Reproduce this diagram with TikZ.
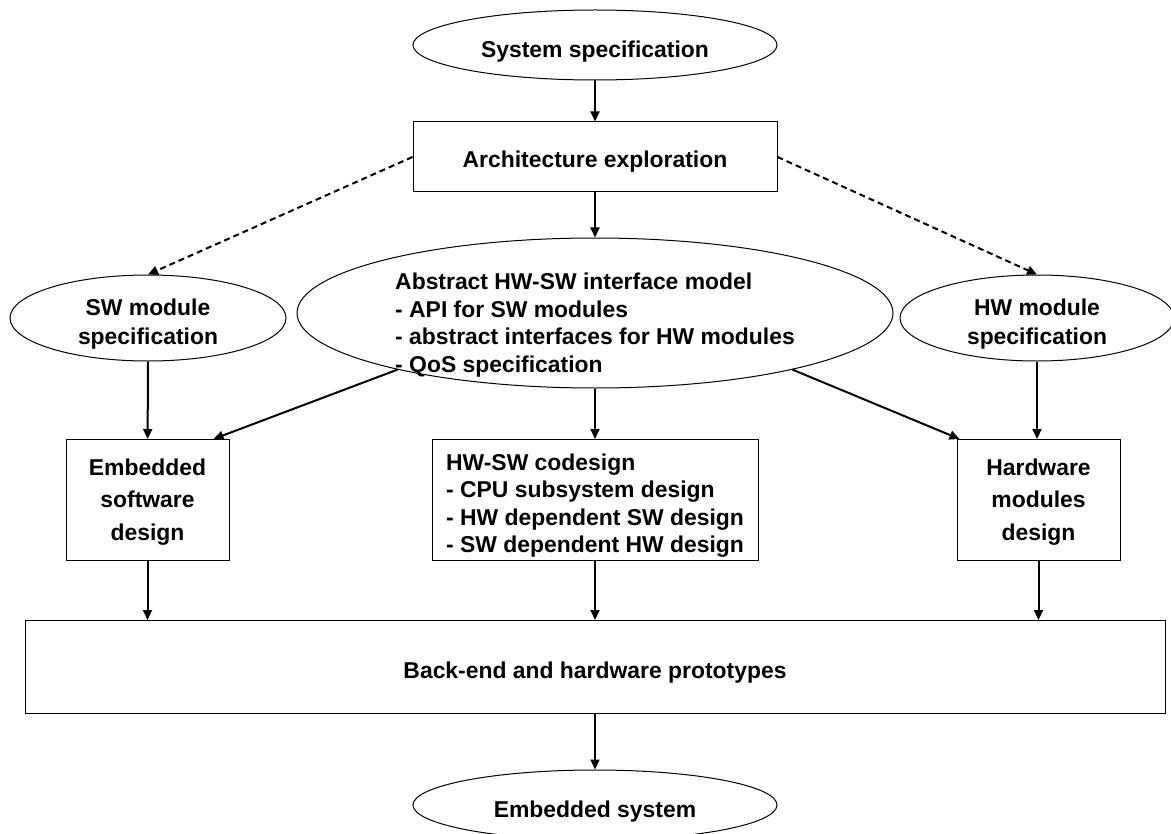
\documentclass[tikz,border=0pt]{standalone}
\usepackage{fontspec}
\setmainfont{Liberation Sans}
\usetikzlibrary{shapes.geometric,arrows.meta}
\begin{document}
\begin{tikzpicture}[x=0.5pt,y=-0.5pt,
 every node/.style={font=\bfseries\fontsize{11.45}{13.7}\selectfont, inner sep=0pt, line width=0.5pt},
 every label/.style={draw=none, align=center},
 ell/.style={draw, ellipse},
 box/.style={draw, rectangle},
 tallbox/.style={box, minimum width=81.5pt, minimum height=60.5pt},
 tallfont/.style={font=\bfseries\fontsize{11.45}{16.3}\selectfont},
 arr/.style={line width=1pt, -{Triangle[length=5pt,width=4.5pt]}},
 darr/.style={arr, dash pattern=on 3pt off 2pt}]
\useasboundingbox (0,0) rectangle (1171,834);

\node[ell, minimum width=182pt, minimum height=35pt,
  label={[yshift=-3.5pt]center:System specification}] (sys) at (595,45) {};
\node[box, minimum width=182pt, minimum height=35pt,
  label={[yshift=-2.5pt]center:Architecture exploration}] (arch) at (595,157) {};
\node[ell, minimum width=298pt, minimum height=75pt,
  label={[align=left, yshift=-6pt, font=\bfseries\fontsize{11.45}{13.8}\selectfont]center:Abstract HW-SW interface model\\- API for SW modules\\- abstract interfaces for HW modules\\- QoS specification}] (big) at (595,313) {};
\node[ell, minimum width=138pt, minimum height=43pt,
  label={[yshift=-3pt, font=\bfseries\fontsize{11.45}{14.5}\selectfont]center:SW module\\specification}] (sw) at (148,318) {};
\node[ell, minimum width=137pt, minimum height=43pt,
  label={[yshift=-3pt, font=\bfseries\fontsize{11.45}{14.5}\selectfont]center:HW module\\specification}] (hw) at (1037,318) {};

\node[tallbox, label={[yshift=-1pt, tallfont]center:Embedded\\software\\design}] (emb) at (147.5,500) {};
\node[box, minimum width=163pt, minimum height=60.5pt,
  label={[align=left, yshift=-2.75pt]center:HW-SW codesign\\- CPU subsystem design\\- HW dependent SW design\\- SW dependent HW design}] (cod) at (595,500) {};
\node[tallbox, label={[yshift=-1pt, tallfont]center:Hardware\\modules\\design}] (hwd) at (1038.5,500) {};

\node[box, minimum width=570pt, minimum height=46.5pt,
  label={[yshift=-3pt]center:Back-end and hardware prototypes}] (back) at (595,667) {};
\node[ell, minimum width=182pt, minimum height=35pt,
  label={[yshift=-3.5pt]center:Embedded system}] (es) at (595,805) {};

\draw[arr] (sys) -- (arch);
\draw[arr] (arch) -- (big);
\draw[darr] (arch.west) -- (sw.north);
\draw[darr] (arch.east) -- (hw.north);
\draw[arr] (sw) -- (emb);
\draw[arr] (hw.south) -- (hw.south |- hwd.north);
\draw[arr] (big.196) -- ([xshift=-8pt]emb.north east);
\draw[arr] (big.344) -- ([xshift=1.5pt]hwd.north west);
\draw[arr] (big) -- (cod);
\draw[arr] (emb.south) -- (emb.south |- back.north);
\draw[arr] (cod) -- (back);
\draw[arr] (hwd.south) -- (hwd.south |- back.north);
\draw[arr] (back) -- (es);
\end{tikzpicture}
\end{document}
